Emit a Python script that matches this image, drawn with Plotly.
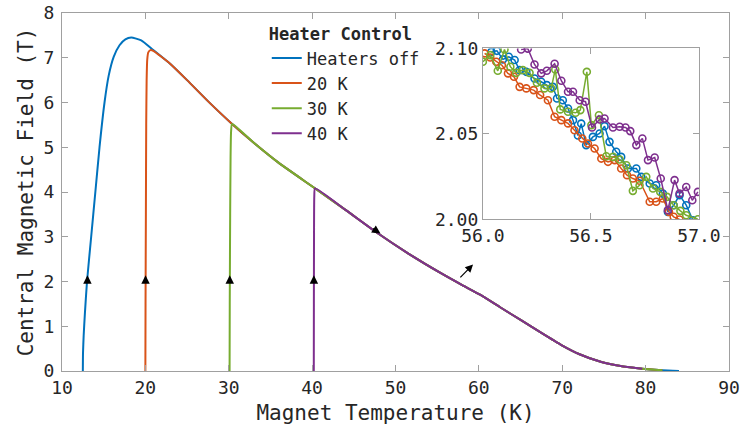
import plotly.graph_objects as go

# ---------------- data ----------------
off_up_T = [12.5, 12.52, 12.6, 12.75, 13.0, 13.5, 14.0, 14.5, 15.1, 15.6, 16.2, 16.9, 17.6, 18.3, 19.5, 20.9]
off_up_B = [0.0, 0.4, 0.8, 1.3, 2.0, 3.0, 4.0, 5.0, 6.0, 6.6, 7.02, 7.28, 7.41, 7.45, 7.39, 7.18]

k20_up_T = [20.0, 20.02, 20.06, 20.1, 20.15, 20.22, 20.35, 20.6, 21.0, 22.0]
k20_up_B = [0.0, 1.5, 3.5, 5.5, 6.5, 6.95, 7.12, 7.17, 7.15, 7.01]

k30_up_T = [30.1, 30.12, 30.17, 30.22, 30.28, 30.4]
k30_up_B = [0.0, 1.5, 3.5, 4.8, 5.35, 5.52]

k40_up_T = [40.2, 40.21, 40.23, 40.26, 40.35]
k40_up_B = [0.0, 1.5, 3.2, 3.9, 4.08]

desc_T = [23, 25, 27.5, 30.4, 33, 36, 40.2, 44, 47.7, 51.5, 55.5, 58, 60.2, 62.5,
          65.1, 67.5, 69.9, 72, 74.7, 77, 79.6, 82, 84]
desc_B = [6.86, 6.5, 6.03, 5.52, 5.1, 4.65, 4.1, 3.6, 3.10, 2.63, 2.18, 1.92, 1.70, 1.43,
          1.13, 0.85, 0.58, 0.38, 0.20, 0.11, 0.05, 0.015, 0.0]

end_T = {"off": 84, "20": 82, "30": 82, "40": 79.6}

# inset (zoomed) samples
in_off_T = [56.039, 56.065, 56.093, 56.120, 56.147, 56.170, 56.201, 56.239, 56.270, 56.296,
            56.324, 56.343, 56.370, 56.394, 56.417, 56.440, 56.455, 56.478, 56.509, 56.540,
            56.563, 56.586, 56.617, 56.640, 56.671, 56.710, 56.733, 56.772, 56.802, 56.833,
            56.856, 56.883, 56.910, 56.941, 56.972]
in_off_B = [2.0980, 2.0986, 2.0936, 2.0951, 2.0932, 2.0873, 2.0863, 2.0824, 2.0805, 2.0785,
            2.0775, 2.0707, 2.0697, 2.0648, 2.0580, 2.0490, 2.0560, 2.0434, 2.0482, 2.0502,
            2.0545, 2.0453, 2.0395, 2.0365, 2.0297, 2.0297, 2.0248, 2.0209, 2.0199, 2.0150,
            2.0043, 2.0082, 2.0141, 2.0082, 1.9994]

in_20_T = [56.008, 56.034, 56.062, 56.088, 56.116, 56.144, 56.170, 56.201, 56.235, 56.265,
           56.301, 56.332, 56.363, 56.394, 56.424, 56.460, 56.486, 56.517, 56.548, 56.579,
           56.610, 56.640, 56.667, 56.694, 56.725, 56.772, 56.802, 56.833, 56.861, 56.883,
           56.910]
in_20_B = [2.0971, 2.0947, 2.0922, 2.0902, 2.0854, 2.0834, 2.0775, 2.0766, 2.0756, 2.0727,
           2.0697, 2.0600, 2.0580, 2.0561, 2.0521, 2.0473, 2.0443, 2.0414, 2.0355, 2.0336,
           2.0346, 2.0297, 2.0258, 2.0238, 2.0225, 2.0102, 2.0102, 2.0121, 2.0043, 2.0014,
           1.9998]

in_30_T = [56.000, 56.034, 56.069, 56.100, 56.127, 56.154, 56.185, 56.216, 56.250, 56.285,
           56.316, 56.335, 56.358, 56.394, 56.429, 56.451, 56.481, 56.502, 56.537, 56.571,
           56.602, 56.633, 56.664, 56.694, 56.725, 56.756, 56.787, 56.821, 56.852, 56.883,
           56.914, 56.941, 56.995]
in_30_B = [2.0922, 2.0961, 2.0869, 2.0994, 2.0893, 2.0857, 2.0873, 2.0857, 2.0799, 2.0766,
           2.0766, 2.0877, 2.0643, 2.0629, 2.0623, 2.0639, 2.0863, 2.0551, 2.0609, 2.0369,
           2.0365, 2.0350, 2.0316, 2.0166, 2.0199, 2.0248, 2.0180, 2.0160, 2.0131, 2.0082,
           2.0049, 2.0023, 2.0000]

in_40_T = [56.177, 56.208, 56.239, 56.270, 56.296, 56.332, 56.363, 56.394, 56.417, 56.448,
           56.475, 56.505, 56.540, 56.563, 56.602, 56.633, 56.660, 56.682, 56.710, 56.738,
           56.764, 56.795, 56.823, 56.856, 56.887, 56.910, 56.941, 56.969, 56.995]
in_40_B = [2.0994, 2.0999, 2.0906, 2.0854, 2.0869, 2.0910, 2.0811, 2.0746, 2.0746, 2.0697,
           2.0688, 2.0537, 2.0584, 2.0590, 2.0537, 2.0541, 2.0537, 2.0516, 2.0434, 2.0473,
           2.0346, 2.0361, 2.0238, 2.0053, 2.0229, 2.0150, 2.0189, 2.0111, 2.0160]

names = ["Heaters off", "20 K", "30 K", "40 K"]
colors = ["#0072BD", "#D95319", "#77AC30", "#7E2F8E"]

# arrows along the paths (tip positions)
arrow_up_T = [13.05, 20.02, 30.12, 40.21]
arrow_up_B = [2.14, 2.14, 2.14, 2.14]

FONT = "DejaVu Sans Mono"


def build(upT, upB, start, stop):
    T = list(upT)
    B = list(upB)
    for t, b in zip(desc_T, desc_B):
        if start < t <= stop:
            T.append(t)
            B.append(b)
    return T, B


series = [
    build(off_up_T, off_up_B, 20.9, end_T["off"]),
    build(k20_up_T, k20_up_B, 22.0, end_T["20"]),
    build(k30_up_T, k30_up_B, 30.4, end_T["30"]),
    build(k40_up_T, k40_up_B, 40.35, end_T["40"]),
]
inset = [(in_off_T, in_off_B), (in_20_T, in_20_B), (in_30_T, in_30_B), (in_40_T, in_40_B)]

fig = go.Figure()
for (T, B), n, c in zip(series, names, colors):
    fig.add_trace(go.Scatter(x=T, y=B, mode="lines", name=n,
                             line=dict(color=c, width=2, shape="spline", smoothing=0.5),
                             xaxis="x", yaxis="y"))
for (T, B), n, c in zip(inset, names, colors):
    fig.add_trace(go.Scatter(x=T, y=B, mode="lines+markers", name=n, showlegend=False,
                             line=dict(color=c, width=1.5),
                             marker=dict(symbol="circle-open", size=7, color=c,
                                         line=dict(width=1.6, color=c)),
                             xaxis="x2", yaxis="y2"))

annotations = []
for t, b in zip(arrow_up_T, arrow_up_B):
    annotations.append(dict(x=t, y=b, xref="x", yref="y", ax=0, ay=7, text="",
                            showarrow=True, arrowhead=2, arrowsize=1.3, arrowwidth=1.3,
                            arrowcolor="black", standoff=0))
annotations.append(dict(x=48.2, y=3.07, xref="x", yref="y", ax=-9, ay=-6, text="",
                        showarrow=True, arrowhead=2, arrowsize=1.3, arrowwidth=1.3,
                        arrowcolor="black", standoff=0))
annotations.append(dict(x=59.3, y=2.38, xref="x", yref="y", ax=57.6, ay=2.06,
                        axref="x", ayref="y", text="", showarrow=True, arrowhead=2,
                        arrowsize=1.3, arrowwidth=1.2, arrowcolor="black", standoff=0))

axis_common = dict(showline=True, linecolor="#a0a0a0", linewidth=1, mirror="ticks",
                   ticks="inside", ticklen=6, tickcolor="#a0a0a0", showgrid=False,
                   zeroline=False, tickfont=dict(family=FONT, size=18, color="#262626"))

fig.update_layout(
    width=749, height=425,
    margin=dict(l=62, r=20, t=13, b=54),
    paper_bgcolor="white", plot_bgcolor="white",
    font=dict(family=FONT, color="#262626"),
    xaxis=dict(range=[10, 90], dtick=10, tick0=10, domain=[0, 1], anchor="y",
               title=dict(text="Magnet Temperature (K)", font=dict(family=FONT, size=21),
                          standoff=10),
               automargin=False, **axis_common),
    yaxis=dict(range=[0, 8], dtick=1, tick0=0, domain=[0, 1], anchor="x",
               ticklabelstandoff=3,
               title=dict(text="Central Magnetic Field (T)", font=dict(family=FONT, size=21),
                          standoff=4),
               automargin=False, **axis_common),
    xaxis2=dict(range=[56, 57], tickvals=[56, 56.5, 57], tickformat=".1f",
                domain=[0.631, 0.955], anchor="y2", automargin=False, **axis_common),
    yaxis2=dict(range=[2.0, 2.1], tickvals=[2.0, 2.05, 2.1], tickformat=".2f",
                domain=[0.424, 0.901], anchor="x2", automargin=False, **axis_common),
    legend=dict(x=0.307, y=0.985, xanchor="left", yanchor="top",
                bgcolor="rgba(0,0,0,0)", borderwidth=0,
                font=dict(family=FONT, size=17, color="#262626"),
                title=dict(text="<b>Heater Control</b>", font=dict(family=FONT, size=17))),
    annotations=annotations,
    showlegend=True,
)

# remove the browser's default 8px body margin so the figure sits at the page origin
fig.write_html("out.html", config={"displayModeBar": False},
               post_script="document.body.style.margin='0px';")
